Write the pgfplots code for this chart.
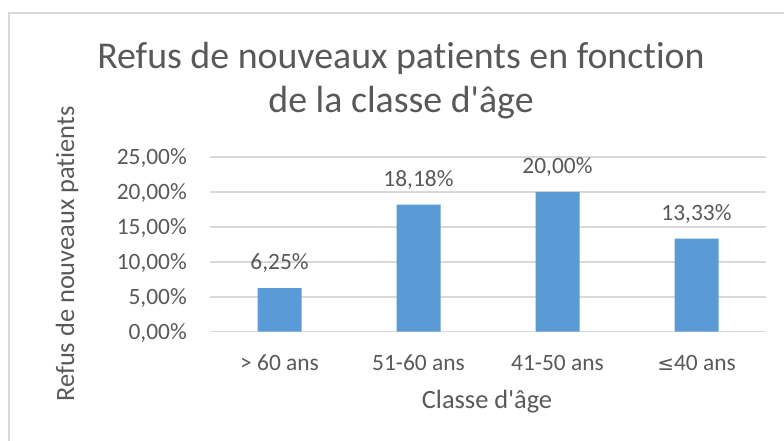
\documentclass[border=0pt]{standalone}
\usepackage{pgfplots}
\pgfplotsset{compat=1.18}
\usepackage{fontspec}
\setmainfont{Carlito}[Ligatures={TeXOff,CommonOff}]
\definecolor{txt}{HTML}{595959}
\definecolor{grd}{HTML}{D9D9D9}
\definecolor{bar}{HTML}{5B9BD5}
\begin{document}
\begin{tikzpicture}[x=1bp,y=1bp]
\useasboundingbox (0,0) rectangle (784,441);
\fill[white] (0,0) rectangle (784,441);
\draw[grd,line width=1.5bp] (9,0) -- (9,428) -- (784,428);
\begin{axis}[
  at={(210bp,109.3bp)}, anchor=south west,
  scale only axis, width=556bp, height=174.7bp,
  xmin=-0.5, xmax=3.5, ymin=0, ymax=25,
  axis line style={draw=none},
  axis x line*=bottom,
  xtick={0,1,2,3},
  xticklabels={{> 60 ans},{51-60 ans},{41-50 ans},{\fontspec{DejaVu Sans}\fontsize{20}{24}\selectfont≤}40 ans},
  ytick={0,5,10,15,20,25},
  yticklabels={{0,00\%},{5,00\%},{10,00\%},{15,00\%},{20,00\%},{25,00\%}},
  major tick length=0pt,
  ymajorgrids,
  grid style={grd,line width=1.5bp},
  yticklabel style={anchor=base east, inner sep=0pt, xshift=-23bp, yshift=-7.4bp, font=\fontsize{23.5}{28}\selectfont, text=txt},
  xticklabel style={anchor=base, inner sep=0pt, yshift=-39bp, font=\fontsize{23.5}{28}\selectfont, text=txt},
  nodes near coords,
  point meta=explicit symbolic,
  nodes near coords style={anchor=base, inner sep=0pt, yshift=18.5bp, font=\fontsize{23.5}{28}\selectfont, text=txt},
  clip=false,
]
\addplot[ybar, bar width=44bp, fill=bar, draw=none] table[meta=lab] {
x y lab
0 6.25 6,25\%
1 18.18 18,18\%
2 20.00 20,00\%
3 13.33 13,33\%
};
\end{axis}
\node[anchor=base, text=txt, font=\fontsize{38}{42}\selectfont, inner sep=0pt] at (401,372.5) {Refus de nouveaux patients en fonction};
\node[anchor=base, text=txt, font=\fontsize{38}{42}\selectfont, inner sep=0pt] at (401,328) {de la classe d'âge};
\node[anchor=base, text=txt, font=\fontsize{26.5}{30}\selectfont, inner sep=0pt] at (487,32) {Classe d'âge};
\node[anchor=center, rotate=90, text=txt, font=\fontsize{26.5}{30}\selectfont, inner sep=0pt] at (67,187) {Refus de nouveaux patients};
\end{tikzpicture}
\end{document}
